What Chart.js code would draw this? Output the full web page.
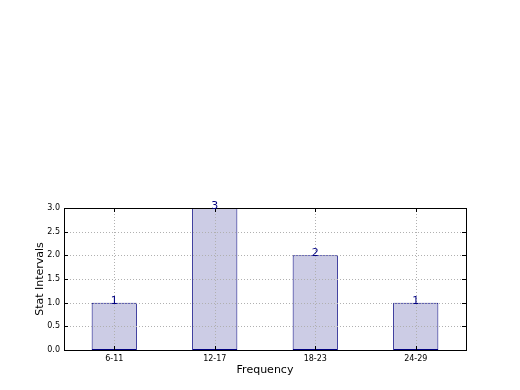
<!DOCTYPE html>
<html>
<head>
<meta charset="utf-8">
<script src="https://cdn.jsdelivr.net/npm/chart.js@4/dist/chart.umd.min.js"></script>
<style>
  html, body { margin: 0; padding: 0; background: #fff; }
  #wrap { width: 520px; height: 390px; }
</style>
</head>
<body>
<div id="wrap"><canvas id="myChart" width="520" height="390"></canvas></div>
<script>
// chart data
const categories = ['6-11', '12-17', '18-23', '24-29'];
const counts = [1, 3, 2, 1];
const yTicks = [0, 0.5, 1, 1.5, 2, 2.5, 3];

const FONT = 'DejaVu Sans';

// grid on top of bars, frame, inward ticks and value labels (matplotlib look)
const overlayPlugin = {
    id: 'overlay',
    afterDatasetsDraw(chart) {
        const ctx = chart.ctx;
        const area = chart.chartArea;
        const xs = chart.scales.x;
        const ys = chart.scales.y;

        ctx.save();
        // dotted grid
        ctx.strokeStyle = '#b0b0b0';
        ctx.lineWidth = 1;
        ctx.setLineDash([1, 2]);
        yTicks.forEach(v => {
            const y = Math.round(ys.getPixelForValue(v)) + 0.5;
            ctx.beginPath();
            ctx.moveTo(area.left, y);
            ctx.lineTo(area.right, y);
            ctx.stroke();
        });
        categories.forEach((c, i) => {
            const x = Math.round(xs.getPixelForValue(i)) + 0.5;
            ctx.beginPath();
            ctx.moveTo(x, area.top);
            ctx.lineTo(x, area.bottom);
            ctx.stroke();
        });
        ctx.setLineDash([]);

        // inward tick marks
        ctx.strokeStyle = '#000';
        yTicks.forEach(v => {
            const y = Math.round(ys.getPixelForValue(v)) + 0.5;
            ctx.beginPath();
            ctx.moveTo(area.left, y);
            ctx.lineTo(area.left + 4, y);
            ctx.moveTo(area.right, y);
            ctx.lineTo(area.right - 4, y);
            ctx.stroke();
        });
        categories.forEach((c, i) => {
            const x = Math.round(xs.getPixelForValue(i)) + 0.5;
            ctx.beginPath();
            ctx.moveTo(x, area.bottom);
            ctx.lineTo(x, area.bottom - 4);
            ctx.moveTo(x, area.top);
            ctx.lineTo(x, area.top + 4);
            ctx.stroke();
        });

        // frame
        ctx.strokeRect(Math.round(area.left) + 0.5, Math.round(area.top) + 0.5,
            Math.round(area.right - area.left), Math.round(area.bottom - area.top));

        // value labels above bars
        const meta = chart.getDatasetMeta(0);
        ctx.fillStyle = '#000080';
        ctx.font = '11px ' + FONT;
        ctx.textAlign = 'center';
        ctx.textBaseline = 'alphabetic';
        meta.data.forEach((bar, i) => {
            ctx.fillText(String(counts[i]), bar.x, bar.y + 1);
        });
        ctx.restore();
    }
};

const ctx = document.getElementById('myChart').getContext('2d');
new Chart(ctx, {
    type: 'bar',
    data: {
        labels: categories,
        datasets: [{
            data: counts,
            backgroundColor: '#ccccE5',
            borderColor: '#000080',
            borderWidth: 1,
            borderSkipped: false,
            categoryPercentage: 1.0,
            barPercentage: 0.45
        }]
    },
    options: {
        responsive: false,
        animation: false,
        layout: { padding: { left: 0, top: 208, right: 54, bottom: 0 } },
        plugins: {
            legend: { display: false },
            tooltip: { enabled: false }
        },
        scales: {
            x: {
                grid: { display: false, drawTicks: false },
                border: { display: false },
                ticks: { color: '#000', font: { family: FONT, size: 8 }, padding: 4, maxRotation: 0 },
                title: { display: true, text: 'Frequency', color: '#000', font: { family: FONT, size: 11 }, padding: { top: 0, bottom: 13 } },
                afterFit(scale) { scale.height = 40; }
            },
            y: {
                min: 0,
                max: 3,
                grid: { display: false, drawTicks: false },
                border: { display: false },
                ticks: {
                    stepSize: 0.5,
                    color: '#000',
                    font: { family: FONT, size: 8 },
                    padding: 4,
                    callback: v => Number(v).toFixed(1)
                },
                title: { display: true, text: 'Stat Intervals', color: '#000', font: { family: FONT, size: 11 }, padding: { top: 34, bottom: 0 } },
                afterFit(scale) { scale.width = 64; }
            }
        }
    },
    plugins: [overlayPlugin]
});
</script>
</body>
</html>
